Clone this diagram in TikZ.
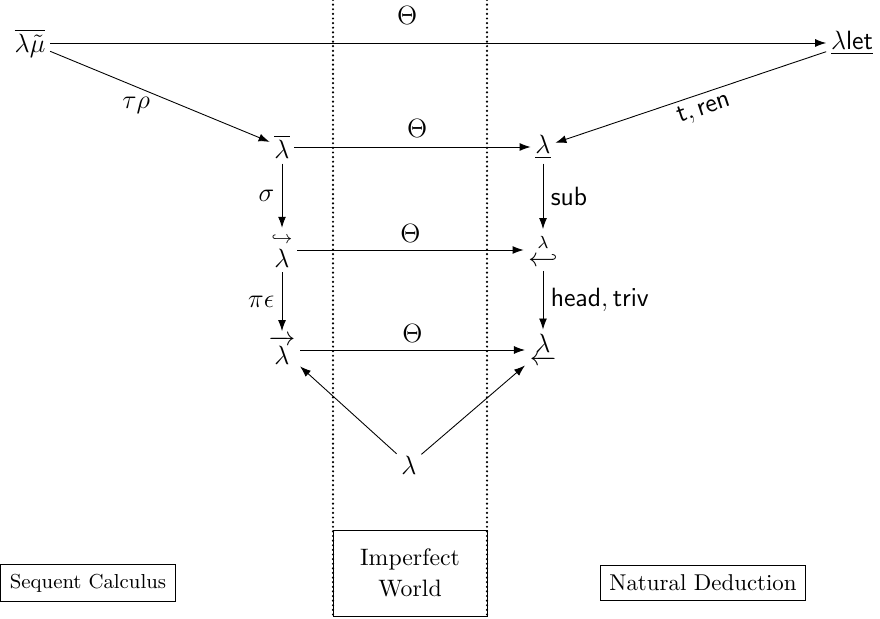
\documentclass[tikz,border=0pt]{standalone}
\usepackage{amsmath,amssymb}
\usetikzlibrary{arrows.meta}
\begin{document}
\begin{tikzpicture}[x=0.4545pt,y=-0.4545pt,
  every node/.style={font=\fontsize{12}{14}\selectfont},
  arr/.style={-{Latex[length=5pt,width=3.6pt]}},
  rarr/.style={{Latex[length=5pt,width=3.6pt]}-},
  dotline/.style={line width=1.1pt,dash pattern=on 0pt off 2.1pt,line cap=round},
  boxed/.style={draw,inner sep=4.2pt,font=\fontsize{10.4}{13}\selectfont},
  obj/.style={inner sep=2pt}]
\useasboundingbox (0,0) rectangle (880,619);
% objects
\node[obj] (lmu)  at (30,43)  {$\overline{\lambda\tilde{\mu}}$};
\node[obj] (llet) at (852,43) {$\underline{\lambda\mathsf{let}}$};
\node[obj] (lbar) at (282,147) {$\overline{\lambda}$};
\node[obj] (lund) at (543,147) {$\underline{\lambda}$};
\node[obj] (lhr)  at (282,250) {$\overset{\hookrightarrow}{\lambda}$};
\node[obj] (lhl)  at (543,250) {$\overset{\lambda}{\hookleftarrow}$};
\node[obj] (lvec) at (282,350) {$\overrightarrow{\lambda}$};
\node[obj] (lul)  at (543,350) {$\underleftarrow{\lambda}$};
\node[obj] (lam)  at (409,465) {$\lambda$};
% arrows
\draw[arr] (lmu) -- node[above=5pt,pos=0.46]{$\Theta$} (llet);
\draw[arr] (lmu) -- node[below left=-2pt,pos=0.47]{$\tau\rho$} (lbar);
\draw[rarr] (lund) -- node[sloped,below=-1pt,pos=0.53]{$\mathsf{t},\mathsf{ren}$} (llet);
\draw[arr] (lbar) -- node[above=1pt,pos=0.52]{$\Theta$} (lund);
\draw[arr] (lhr) -- node[above,pos=0.5]{$\Theta$} (lhl);
\draw[arr] (lvec) -- node[above,pos=0.5]{$\Theta$} (lul);
\draw[arr] (lbar) -- node[left]{$\sigma$} (lhr);
\draw[arr] (lund) -- node[right]{$\mathsf{sub}$} (lhl);
\draw[arr] (lhr) -- node[left]{$\pi\epsilon$} (lvec);
\draw[arr] (lhl) -- node[right]{$\mathsf{head},\mathsf{triv}$} (lul);
\draw[arr] (lam) -- (lvec);
\draw[arr] (lam) -- (lul);
% dotted separators
\coordinate (d1t) at (333,0);
\coordinate (d1b) at (333,619);
\coordinate (d2t) at (487,0);
\coordinate (d2b) at (487,619);
\draw[dotline] (d1t) -- (d1b);
\draw[dotline] (d2t) -- (d2b);
% boxes
\node[boxed,font=\fontsize{9.2}{11}\selectfont] (sc) at (88,583) {Sequent Calculus};
\node[boxed] (nd) at (703,583) {Natural Deduction};
\node[draw,font=\fontsize{10.8}{14}\selectfont,minimum width=154*0.4545pt,minimum height=86*0.4545pt,align=center] (iw) at (410,573) {Imperfect\\World};
\end{tikzpicture}
\end{document}
